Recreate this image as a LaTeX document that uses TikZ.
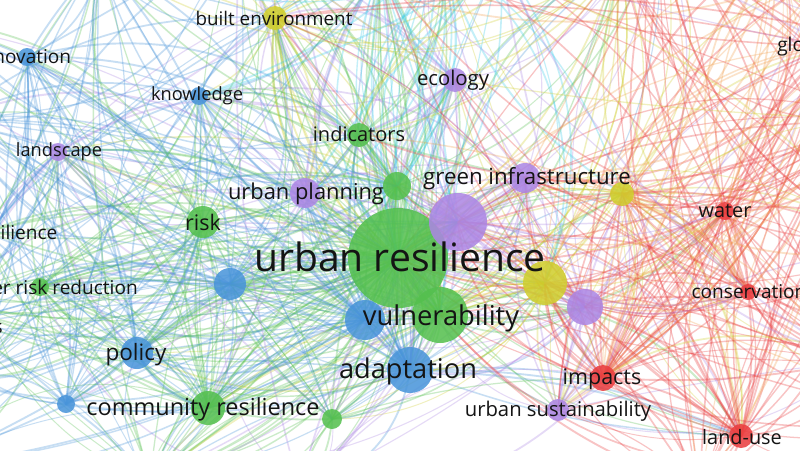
\documentclass[tikz,border=0pt]{standalone}
\usepackage{fontspec}
\setmainfont{Open Sans}
\definecolor{cG}{RGB}{84,192,78}
\definecolor{cB}{RGB}{72,148,218}
\definecolor{cP}{RGB}{172,134,228}
\definecolor{cY}{RGB}{208,206,44}
\definecolor{cR}{RGB}{234,60,62}
\definecolor{cC}{RGB}{60,205,235}
\definecolor{cO}{RGB}{242,162,80}
\definecolor{txt}{RGB}{20,20,20}
\tikzset{
  edge/.style={draw opacity=0.3, line cap=round},
  dot/.style={circle, inner sep=0pt, draw=none, fill opacity=0.86},
  lab/.style={text=txt, inner sep=0pt},
}
\pgfmathdeclarerandomlist{W}{{1}{1}{1}{2}{3}{4}{4}{10}{11}{12}{13}{14}{16}{17}{18}{19}{20}{21}{22}{23}{24}{25}{38}{39}{40}{43}{45}{5}{33}{12}{22}{24}{52}{53}{54}{48}}
\pgfmathdeclarerandomlist{E}{{27}{28}{29}{30}{31}{35}{36}{37}{44}{46}{47}{1}{6}{7}{26}{9}{5}{2}{27}{28}{30}{49}{50}{51}{8}{41}}
\pgfmathdeclarerandomlist{A}{{1}{1}{1}{1}{2}{2}{3}{4}{4}{5}{5}{6}{7}{8}{9}{10}{11}{12}{13}{14}{15}{16}{17}{22}{24}{25}{26}{27}{32}{33}{34}{41}{42}{30}{28}{3}{13}{19}{21}{43}{49}{54}}
\pgfmathdeclarerandomlist{N}{{1}{5}{8}{10}{11}{14}{15}{16}{17}{32}{33}{34}{41}{6}{9}{2}{1}{32}{54}{49}{45}}
\pgfmathdeclarerandomlist{XS}{{15}{32}{34}{41}{16}{5}{8}{9}{6}{14}{10}{7}{26}{54}{33}}
\pgfmathdeclarerandomlist{XT}{{31}{35}{44}{29}{30}{46}{47}{49}{50}{28}{36}{27}{51}}
\begin{document}
\begin{tikzpicture}[x=0.75pt,y=-0.75pt]
\useasboundingbox (0,0) rectangle (800,450);
\fill[white] (0,0) rectangle (800,450);
\clip (0,0) rectangle (800,450);
% positions
\foreach \i/\x/\y in {1/398/258, 2/440/315, 3/365/320, 4/410/370, 5/458/222,
  6/545/283, 7/585/307, 8/525/178, 9/622/194, 10/397/186, 11/305/193,
  12/203/222, 13/230/284, 14/359/135, 15/455/80, 16/275/18, 17/199/96,
  18/27/57, 19/58/152, 20/-14/232, 21/40/287, 22/137/353, 23/66/404,
  24/208/408, 25/332/419, 26/558/410, 27/603/378, 28/741/436, 29/748/292,
  30/725/211, 31/830/47, 32/440/-50, 33/380/-30, 34/500/-40, 35/880/120,
  36/860/360, 37/700/490, 38/-50/120, 39/-40/380, 40/-60/300, 41/620/-40,
  42/300/490, 43/150/480, 44/900/250, 45/100/-40, 46/780/-60, 47/880/40,
  48/-60/328, 49/660/-80, 50/830/-30, 51/950/420, 52/-80/470, 53/-90/20,
  54/240/-70}
  \coordinate (p\i) at (\x,\y);
% connectors
\pgfmathsetseed{4242}
\foreach \i/\c/\pl/\k in {1/G/A/100, 2/G/A/45, 3/B/W/30, 4/B/A/38, 5/P/A/38,
  6/Y/A/30, 7/P/A/24, 8/P/A/24, 9/Y/E/20, 10/G/A/22, 11/P/W/22, 12/G/W/26,
  13/B/W/22, 14/G/N/18, 15/P/N/18, 16/Y/N/22, 17/B/W/18, 18/B/W/18,
  19/P/W/15, 20/G/W/15, 21/G/W/18, 22/B/W/22, 23/B/W/15, 24/G/W/24,
  25/G/A/15, 26/P/E/18, 27/R/E/22, 28/R/E/22, 29/R/E/18, 30/R/E/18,
  31/R/E/18, 32/C/N/26, 33/C/N/18, 34/C/N/18, 35/R/E/18, 36/R/E/18,
  37/R/E/15, 38/B/W/18, 39/B/W/15, 40/G/W/15, 41/Y/N/15, 42/P/A/12,
  43/G/W/14, 44/R/E/15, 45/B/W/14, 46/O/E/15, 47/O/E/15, 48/B/W/10,
  49/R/E/14, 50/O/E/12, 51/R/E/12, 52/B/W/12, 53/B/W/12, 54/Y/N/12}{
  \foreach \m in {1,...,\k}{
    \pgfmathrandomitem{\j}{\pl}
    \pgfmathsetmacro{\b}{random(0,76)-38}
    \pgfmathsetmacro{\w}{0.7+0.8*rnd}
    \ifnum\j=\i\relax\else
      \draw[edge,draw=c\c,line width=\w pt] (p\i) to[bend left=\b] (p\j);
    \fi
  }
}
% cross links between the upper middle and the right-hand cluster
\foreach \m in {1,...,70}{
  \pgfmathrandomitem{\s}{XS}
  \pgfmathrandomitem{\t}{XT}
  \pgfmathsetmacro{\b}{random(0,70)-35}
  \pgfmathsetmacro{\w}{0.7+0.7*rnd}
  \pgfmathsetmacro{\q}{rnd}
  \ifdim\q pt<0.5pt
    \draw[edge,draw=cR,line width=\w pt] (p\t) to[bend left=\b] (p\s);
  \else
    \ifdim\q pt<0.7pt
      \draw[edge,draw=cY,line width=\w pt] (p\s) to[bend left=\b] (p\t);
    \else
      \ifdim\q pt<0.85pt
        \draw[edge,draw=cP,line width=\w pt] (p\s) to[bend left=\b] (p\t);
      \else
        \draw[edge,draw=cO,line width=\w pt] (p\s) to[bend left=\b] (p\t);
      \fi
    \fi
  \fi
}
% circles
\foreach \i/\r/\c in {1/50/G, 2/28/G, 3/20/B, 4/23/B, 5/29/P, 6/22/Y,
  7/18/P, 8/15/P, 9/12/Y, 10/14/G, 11/15/P, 12/16/G, 13/16/B, 14/12/G,
  15/12/P, 16/12/Y, 17/9/B, 18/9/B, 19/9/P, 21/9/G, 22/16/B, 23/9/B,
  24/17/G, 25/10/G, 26/11/P, 27/13/R, 28/12/R, 29/8/R, 30/9/R}
  \node[dot, fill=c\c, minimum size=\r*1.5pt] (n\i) at (p\i) {};
% labels
\newcommand{\fs}[1]{\fontsize{#1}{#1}\selectfont}
\node[lab, font=\fs{29.3}] (l1) at (400,257) {urban resilience};
\node[lab, font=\fs{20.5}] (l2) at (441,318) {vulnerability};
\node[lab, font=\fs{20.4}] (l4) at (408,371) {adaptation};
\node[lab, font=\fs{16.7}] (l8) at (527,179) {green infrastructure};
\node[lab, font=\fs{16.4}] (l11) at (306,194) {urban planning};
\node[lab, font=\fs{16.1}] (l12) at (203,222) {risk};
\node[lab, font=\fs{15}] (l14) at (359,134) {indicators};
\node[lab, font=\fs{15.2}] (l15) at (453,80) {ecology};
\node[lab, font=\fs{14.1}] (l16) at (274,18) {built environment};
\node[lab, font=\fs{13.7}] (l17) at (197,96) {knowledge};
\node[lab, font=\fs{13.7}] (l19) at (59,152) {landscape};
\node[lab, font=\fs{16.9}] (l22) at (136,355) {policy};
\node[lab, font=\fs{17.6}] (l24) at (203,409) {community resilience};
\node[lab, font=\fs{15.2}] (l26) at (558,411) {urban sustainability};
\node[lab, font=\fs{16.1}] (l27) at (602,379) {impacts};
\node[lab, font=\fs{14.9}] (l28) at (742,437) {land-use};
\node[lab, font=\fs{14.9}] (l30) at (725,211) {water};
\node[lab, font=\fs{14.3}] (l29) at (749,292) {conservation};
\node[lab, font=\fs{14.3}] (l18) at (24,57) {innovation};
\node[lab, font=\fs{14.3}] (l21) at (39,287) {disaster risk reduction};
\node[lab, font=\fs{14.3}] (l20) at (-12,232) {social resilience};
\node[lab, font=\fs{14.3}, anchor=west] (l31) at (777,47) {global change};
\node[lab, font=\fs{14.3}, anchor=east] (l48) at (3,329) {ecosystem services};
\end{tikzpicture}
\end{document}
